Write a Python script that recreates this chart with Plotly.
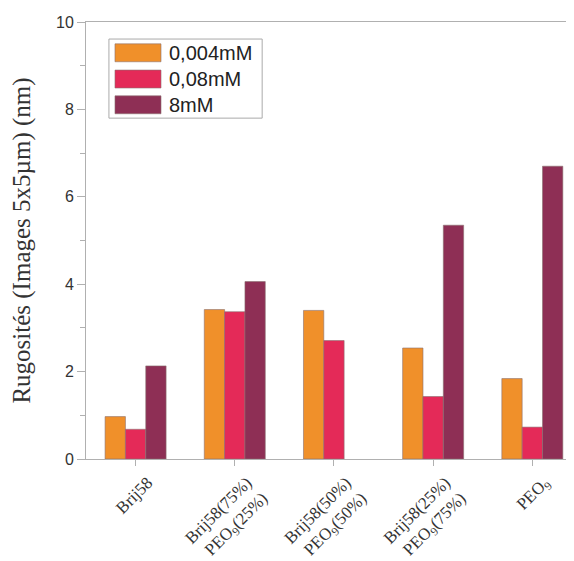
import plotly.graph_objects as go

categories = ["Brij58", "Brij58(75%)<br>PEO<sub>9</sub>(25%)", "Brij58(50%)<br>PEO<sub>9</sub>(50%)",
              "Brij58(25%)<br>PEO<sub>9</sub>(75%)", "PEO<sub>9</sub>"]
series_names = ["0,004mM", "0,08mM", "8mM"]
v_0004 = [0.97, 3.42, 3.40, 2.54, 1.84]
v_008 = [0.68, 3.37, 2.71, 1.43, 0.73]
v_8 = [2.13, 4.06, None, 5.35, 6.70]
colors = ["#F0902A", "#E42A58", "#8E2F55"]

fig = go.Figure()
for name, vals, col in zip(series_names, [v_0004, v_008, v_8], colors):
    fig.add_trace(go.Bar(x=categories, y=vals, name=name,
                         marker=dict(color=col, line=dict(color="#8a7070", width=0.6))))

# legend drawn as decoration (paper coordinates)
fig.add_shape(type="rect", xref="paper", yref="paper", x0=0.047, x1=0.361, y0=0.780, y1=0.961,
              line=dict(color="#aaaaaa", width=1), fillcolor="white", layer="above")
row_tops = [0.950, 0.890, 0.831]
for i, (name, col) in enumerate(zip(series_names, colors)):
    top = row_tops[i]
    fig.add_shape(type="rect", xref="paper", yref="paper", x0=0.0594, x1=0.1537,
                  y0=top - 0.041, y1=top, fillcolor=col,
                  line=dict(color="#8a7070", width=0.6), layer="above")
    fig.add_annotation(xref="paper", yref="paper", x=0.166, y=top - 0.0205,
                       xanchor="left", yanchor="middle", text=name, showarrow=False,
                       font=dict(family="Liberation Sans, Arial", size=20, color="#222"))

# page body has an 8px margin, so the figure is 8px smaller and margins 8px less
fig.update_layout(
    width=566, height=553,
    margin=dict(l=78, r=0, t=14, b=102),
    paper_bgcolor="white", plot_bgcolor="white",
    barmode="group", bargap=0.385, bargroupgap=0,
    showlegend=False,
    font=dict(family="Liberation Sans, Arial"),
)
fig.update_xaxes(
    type="category", range=[-0.5, 4.42], automargin=False,
    showline=True, linecolor="#b0b0b0", linewidth=1, mirror=True,
    ticks="outside", ticklen=6, tickcolor="#b0b0b0",
    minor=dict(ticks="outside", ticklen=5, tickcolor="#b0b0b0", showgrid=False),
    tickangle=-45, showgrid=False, ticklabelshift=12,
    tickfont=dict(family="Liberation Serif, DejaVu Serif", size=17, color="#333"),
)
fig.update_yaxes(
    range=[0, 10], dtick=2, automargin=False,
    showline=True, linecolor="#b0b0b0", linewidth=1,
    ticks="outside", ticklen=8, tickcolor="#b0b0b0",
    minor=dict(dtick=1, ticks="outside", ticklen=5, tickcolor="#b0b0b0", showgrid=False),
    showgrid=False, zeroline=False,
    tickfont=dict(family="Liberation Sans, Arial", size=16, color="#333"),
    title=dict(text="Rugosités (Images 5x5µm) (nm)",
               font=dict(family="Liberation Serif, DejaVu Serif", size=25, color="#333"),
               standoff=18),
)
fig.write_html("out.html")
